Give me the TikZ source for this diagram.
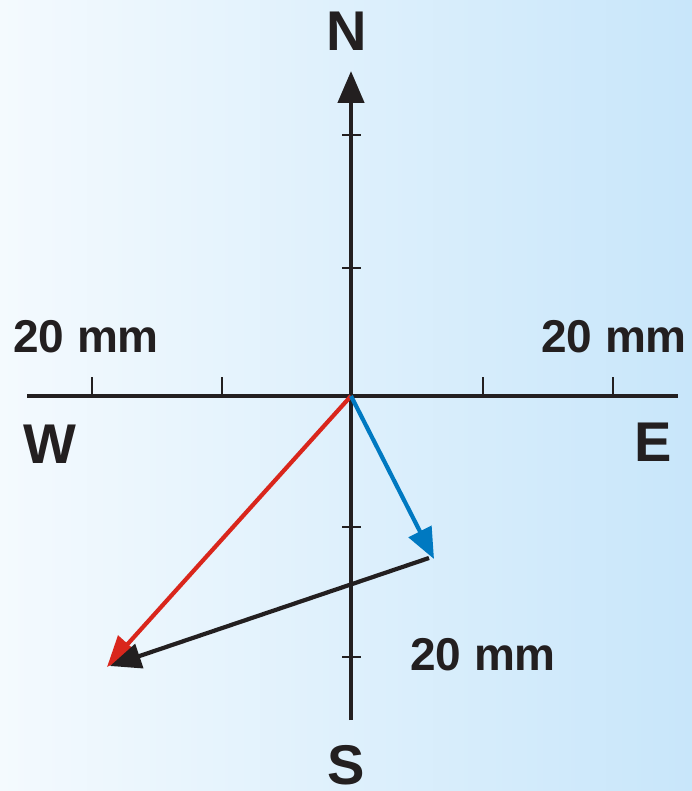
\documentclass[tikz,border=0pt]{standalone}
\usepackage{fontspec}
\setmainfont{Liberation Sans}
\usepackage{tikz}
\usetikzlibrary{arrows.meta}
\definecolor{ink}{HTML}{231F20}
\definecolor{vecred}{HTML}{D9261C}
\definecolor{vecblue}{HTML}{0079C1}
\definecolor{bgleft}{HTML}{F4FAFE}
\definecolor{bgright}{HTML}{C8E6FA}

\begin{document}
\begin{tikzpicture}[x=1pt, y=-1pt]
    \tikzstyle{axis} = [line width=4.5pt, draw=ink]
    \tikzstyle{tick} = [line width=1.8pt, draw=ink]
    \tikzstyle{vec} = [line width=4.2pt, -{Triangle[length=31pt,width=25pt]}]
    \tikzstyle{scalelabel} = [inner sep=0pt, text=ink, font=\fontsize{46}{50}\selectfont\bfseries]
    \tikzstyle{pole} = [inner sep=0pt, text=ink, font=\fontsize{56}{60}\selectfont\bfseries]

    \shade [left color=bgleft, right color=bgright] (0,0) rectangle (692,791);
    \useasboundingbox (0,0) rectangle (692,791);

    \coordinate (O) at (351,396);
    \coordinate (west) at (27,396);
    \coordinate (east) at (678,396);
    \coordinate (south) at (351,720);
    \coordinate (north) at (351,71);
    \coordinate (blueTip) at (434,559);
    \coordinate (blackStart) at (429,558);
    \coordinate (redTip) at (107,667);
    \coordinate (blackTip) at (110,666);

    % axes
    \draw [axis] (west) -- (east);
    \draw [axis, -{Triangle[length=32pt,width=26pt]}] (south) -- (north);
    \foreach \x in {92,222,483,613}
        \draw [tick] (\x,377) -- (\x,396);
    \foreach \y in {135,268,527,657}
        \draw [tick] (342,\y) -- (361,\y);

    % labels
    \node [pole] (labN) at (347,31) {N};
    \node [pole] (labS) at (346,765) {S};
    \node [pole] (labW) at (50,444) {W};
    \node [pole] (labE) at (653,442) {E};
    \node [scalelabel] (scaleW) at (86,337) {20 mm};
    \node [scalelabel] (scaleE) at (614,337) {20 mm};
    \node [scalelabel] (scaleS) at (483,655) {20 mm};

    % vectors
    \draw [vec, vecred] (O) -- (redTip);
    \draw [vec, vecblue] (O) -- (blueTip);
    \draw [vec, ink] (blackStart) -- (blackTip);
\end{tikzpicture}
\end{document}
